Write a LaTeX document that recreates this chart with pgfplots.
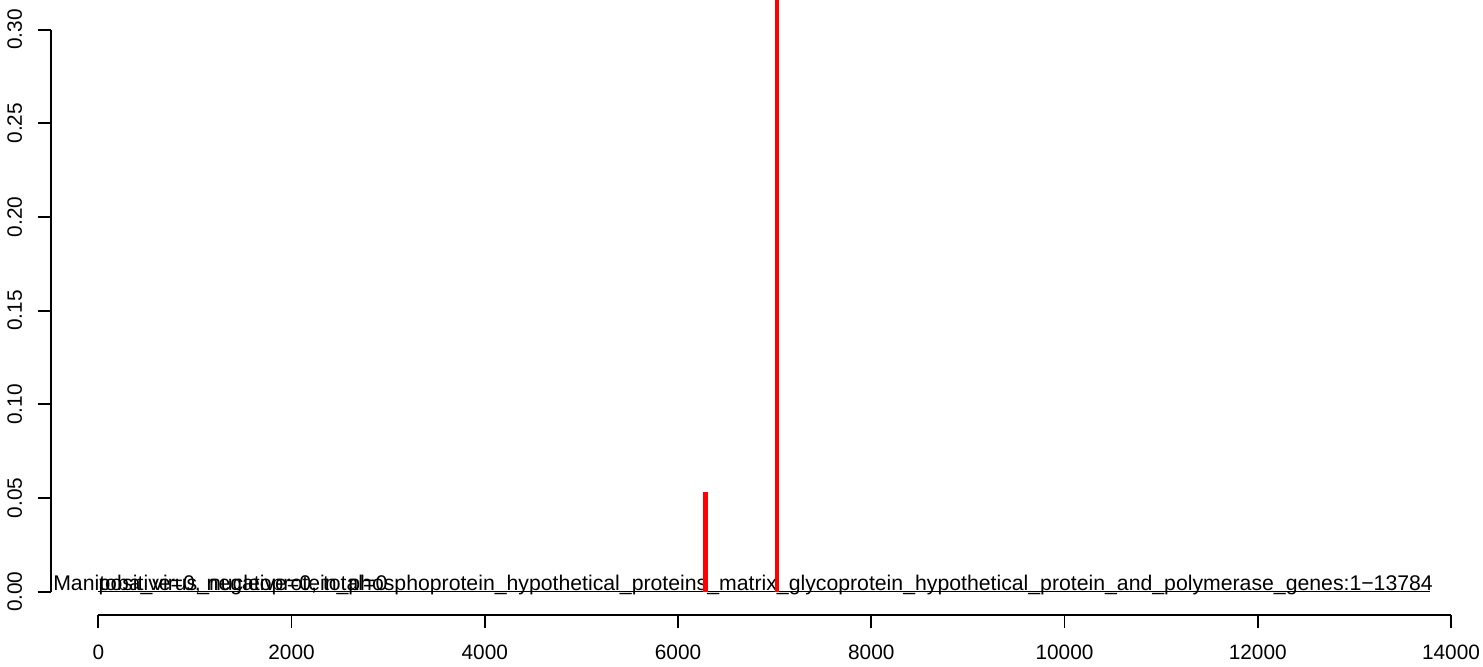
\documentclass[border=0pt]{standalone}
\usepackage{fontspec}
\setmainfont{Liberation Sans}
\usepackage{pgfplots}
\pgfplotsset{compat=1.18}
\begin{document}
\begin{tikzpicture}
\begin{axis}[
  width=716pt, height=307.5pt, scale only axis,
  xmin=-489.5, xmax=14331, ymin=-0.01244, ymax=0.3158,
  enlargelimits=false,
  axis x line*=bottom, axis y line*=left,
  axis line style={draw=none},
  clip mode=individual,
  tick align=outside,
  major tick length=6.7pt,
  every tick/.style={black, line width=0.9pt},
  xtick={0,2000,4000,6000,8000,10000,12000,14000},
  xticklabels={0,2000,4000,6000,8000,10000,12000,14000},
  ytick={0,0.05,0.10,0.15,0.20,0.25,0.30},
  yticklabels={0.00,0.05,0.10,0.15,0.20,0.25,0.30},
  tick label style={font=\fontsize{10.4}{12}\selectfont},
  xticklabel style={anchor=north, inner sep=0pt, yshift=-8pt},
  yticklabel style={rotate=90, anchor=south, inner sep=0pt, yshift=7.5pt},
]
\coordinate (O) at (rel axis cs:0,0);
\draw[line width=0.9pt] (axis cs:0,-0.01244) -- (axis cs:14000,-0.01244);
\draw[line width=0.9pt] (axis cs:-489.5,0) -- (axis cs:-489.5,0.30);
\addplot[black, line width=0.6pt] coordinates {(0,0) (13784,0)};
\node[anchor=base west, inner sep=0pt, font=\fontsize{10.62}{12}\selectfont] at (axis cs:-470,0.0008) {Manitoba\_virus\_nucleoprotein\_phosphoprotein\_hypothetical\_proteins\_matrix\_glycoprotein\_hypothetical\_protein\_and\_polymerase\_genes:1−13784};
\node[anchor=base west, inner sep=0pt, font=\fontsize{10.62}{12}\selectfont] at (axis cs:0,0.0008) {positive=0, negative=0, total=0};
\addplot[ycomb, red, line width=2.25pt, mark=none] coordinates {(6282,0.0532) (7025,0.33)};
\end{axis}
\pgfresetboundingbox
\path (O) ++(-25.5pt,-25.5pt) rectangle ++(741.5pt,333pt);
\end{tikzpicture}
\end{document}
